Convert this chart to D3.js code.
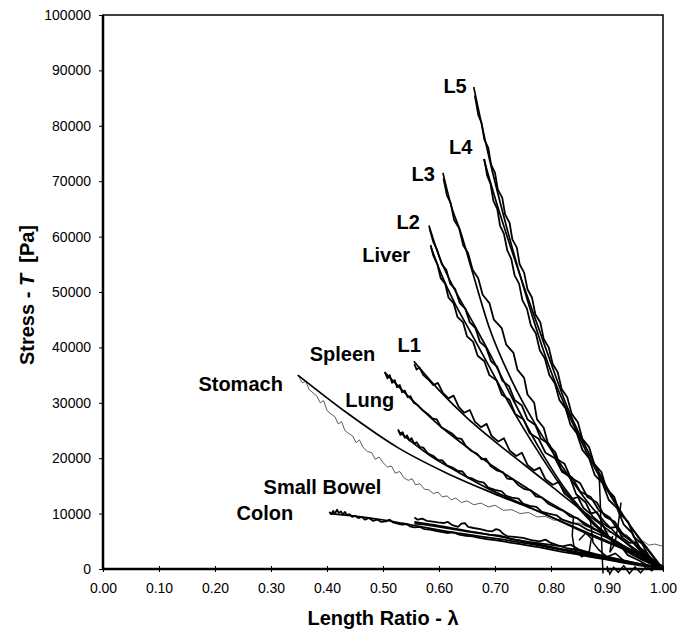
<!DOCTYPE html>
<html>
<head>
<meta charset="utf-8">
<script src="https://cdn.jsdelivr.net/npm/d3@7"></script>
<style>
    body { margin: 0; background: #fff; }
    .tick line { stroke: #000; stroke-width: 1; }
    .domain { display: none; }
    .fit { fill: none; stroke: #000; stroke-width: 1.7; }
    .exp { fill: none; stroke: #000; stroke-width: 1.8; stroke-linejoin: round; }
    .thin { fill: none; stroke: #333; stroke-width: 0.8; }
    .art { fill: none; stroke: #000; stroke-width: 1.5; }
    .curveLabel, .axisTitle { font-family: "Liberation Sans", Arial, sans-serif; font-weight: bold; font-size: 20px; fill: #000; white-space: pre; }
</style>
</head>
<body>
<script>
//wrap everything in an anonymous function so nothing is global
(function () {

    //tick values
    var xTicks = [0, 0.1, 0.2, 0.3, 0.4, 0.5, 0.6, 0.7, 0.8, 0.9, 1.0];
    var yTicks = [0, 10000, 20000, 30000, 40000, 50000, 60000, 70000, 80000, 90000, 100000];

    //curve names (label order)
    var names = ["L5", "L4", "L3", "L2", "Liver", "L1", "Spleen", "Stomach", "Lung", "Small Bowel", "Colon"];

    //[length ratio, stress Pa]
    var l5Fit = [[0.662,87000],[0.69,74000],[0.72,62000],[0.755,49500],[0.795,37000],[0.84,26000],[0.89,16000],[0.94,8000],[0.97,3800],[1.0,0]];
    var l5Exp = [[0.664,85500],[0.670,82000],[0.676,80500],[0.681,77500],[0.688,76000],[0.693,73000],[0.700,71500],[0.705,68500],[0.713,67000],[0.718,64000],[0.726,62500],[0.731,59500],[0.739,58000],[0.744,55000],[0.752,53500],[0.758,50500],[0.766,49000],[0.772,46000],[0.781,44500],[0.787,41500],[0.796,40000],[0.803,37000],[0.812,35500],[0.819,32500],[0.829,31000],[0.837,28000],[0.848,26500],[0.856,23500],[0.868,22000],[0.877,19000],[0.89,17500],[0.899,14500],[0.913,13000],[0.923,10000],[0.938,8500],[0.948,5800],[0.963,4500],[0.975,2200],[0.99,1000],[1.0,0]];
    var l4Fit = [[0.68,74000],[0.70,67000],[0.725,59000],[0.755,50000],[0.79,40000],[0.83,29000],[0.88,18500],[0.93,9500],[0.97,4000],[1.0,0]];
    var l4Exp = [[0.681,74000],[0.686,71000],[0.692,69500],[0.697,66500],[0.704,65000],[0.709,62000],[0.716,60500],[0.722,57500],[0.729,56000],[0.735,53000],[0.743,51500],[0.749,48500],[0.757,47000],[0.764,44000],[0.773,42500],[0.780,39500],[0.789,38000],[0.797,35000],[0.807,33500],[0.815,30500],[0.826,29000],[0.835,26000],[0.846,24500],[0.856,21500],[0.868,20000],[0.878,17000],[0.892,15500],[0.903,12500],[0.918,11000],[0.93,8000],[0.945,6500],[0.957,4000],[0.972,2800],[0.985,1000],[1.0,0]];
    var l3Fit = [[0.607,71500],[0.622,65500],[0.638,61000],[0.66,53500],[0.69,43500],[0.73,34000],[0.775,25600],[0.82,18500],[0.87,11500],[0.92,6000],[0.96,2500],[1.0,0]];
    var l3Exp = [[0.608,70500],[0.614,67500],[0.621,66000],[0.627,63000],[0.636,61500],[0.643,58500],[0.652,57000],[0.66,54000],[0.67,52500],[0.678,49500],[0.69,48000],[0.698,45000],[0.712,43500],[0.72,40500],[0.733,39000],[0.74,36000],[0.752,34500],[0.758,31500],[0.77,30000],[0.775,27000],[0.787,25500],[0.795,22500],[0.808,21000],[0.818,18000],[0.834,16500],[0.845,13500],[0.862,12000],[0.874,9500],[0.892,8000],[0.903,5800],[0.922,4500],[0.937,2500],[0.958,1500],[0.975,500],[1.0,0]];
    var l2Fit = [[0.582,62000],[0.60,56500],[0.625,51000],[0.655,45500],[0.69,39000],[0.73,31000],[0.775,22500],[0.825,14500],[0.875,8500],[0.93,3800],[1.0,0]];
    var l2Exp = [[0.583,61500],[0.59,59000],[0.597,57500],[0.605,55000],[0.613,54000],[0.62,51500],[0.629,50500],[0.637,48000],[0.647,47000],[0.655,44500],[0.665,43500],[0.673,41000],[0.684,40000],[0.693,37500],[0.704,36500],[0.713,34000],[0.725,33000],[0.735,30500],[0.748,29500],[0.758,27000],[0.772,26000],[0.782,23500],[0.797,22500],[0.808,20000],[0.824,19000],[0.835,16500],[0.852,15500],[0.865,13000],[0.882,12000],[0.896,9500],[0.914,8500],[0.93,6000],[0.95,4500],[0.97,2500],[0.99,800],[1.0,0]];
    var liverFit = [[0.586,58000],[0.605,53000],[0.628,48000],[0.655,43000],[0.69,36500],[0.73,29000],[0.775,21500],[0.825,14000],[0.875,8200],[0.93,3500],[1.0,0]];
    var liverExp = [[0.585,58500],[0.59,56500],[0.597,55000],[0.603,52500],[0.611,51500],[0.617,49000],[0.626,48000],[0.633,45500],[0.643,44500],[0.65,42000],[0.661,41000],[0.669,38500],[0.681,37500],[0.69,35000],[0.703,34000],[0.712,31500],[0.726,30500],[0.736,28000],[0.751,27000],[0.762,24500],[0.778,23500],[0.79,21000],[0.807,20000],[0.82,17500],[0.838,16500],[0.852,14000],[0.871,13000],[0.886,10500],[0.905,9300],[0.92,7000],[0.94,5500],[0.96,3200],[0.98,1500],[1.0,0]];
    var l1Fit = [[0.555,37500],[0.60,32300],[0.65,27300],[0.70,23000],[0.75,19000],[0.80,15000],[0.85,11000],[0.90,7200],[0.95,3600],[1.0,0]];
    var l1Exp = [[0.556,37000],[0.560,36000],[0.565,36400],[0.572,35000],[0.58,34300],[0.59,33200],[0.598,33600],[0.607,31800],[0.617,30800],[0.626,31300],[0.635,29300],[0.645,28200],[0.655,28700],[0.664,26600],[0.675,25600],[0.685,26200],[0.694,24000],[0.706,23000],[0.716,23600],[0.726,21400],[0.738,20400],[0.748,21000],[0.758,18800],[0.77,17800],[0.78,18300],[0.79,16200],[0.803,15200],[0.814,15700],[0.824,13600],[0.837,12600],[0.848,13000],[0.858,11000],[0.87,10000],[0.882,10300],[0.892,8300],[0.905,7400],[0.917,7600],[0.928,5600],[0.94,4700],[0.953,4800],[0.965,2900],[0.978,2000],[0.99,1000],[1.0,0]];
    var spleenFit = [[0.504,35400],[0.554,30300],[0.602,25800],[0.65,22000],[0.696,18600],[0.745,15400],[0.793,12300],[0.852,8800],[0.911,5200],[0.959,2500],[1.0,0]];
    var spleenExp = [[0.503,35600],[0.508,34400],[0.512,35000],[0.516,33600],[0.521,34100],[0.525,32800],[0.53,33200],[0.534,31900],[0.539,32200],[0.544,31000],[0.549,31200],[0.555,30000],[0.562,29600],[0.57,28700],[0.58,28000],[0.588,27200],[0.596,27000],[0.604,25600],[0.614,25000],[0.624,24400],[0.632,23600],[0.64,23500],[0.648,22200],[0.658,21300],[0.668,20800],[0.676,19800],[0.684,19900],[0.692,18600],[0.703,17800],[0.714,17500],[0.722,16300],[0.732,16200],[0.742,15100],[0.753,14400],[0.764,14200],[0.773,13100],[0.784,12900],[0.795,11800],[0.81,11000],[0.822,10500],[0.834,9500],[0.847,9200],[0.86,8000],[0.875,7300],[0.89,6600],[0.905,5600],[0.92,4800],[0.935,3800],[0.95,3000],[0.965,2000],[0.98,1200],[1.0,200]];
    var stomachFit = [[0.348,35000],[0.436,28150],[0.525,22000],[0.614,17300],[0.696,13700],[0.78,10300],[0.87,6100],[0.941,3100],[1.0,500]];
    var stomachExp = [[0.348,35000],[0.356,33600],[0.362,33900],[0.368,32400],[0.375,31800],[0.382,31200],[0.388,30000],[0.394,30400],[0.4,28600],[0.407,28000],[0.414,27500],[0.42,26200],[0.426,26600],[0.432,25000],[0.438,24500],[0.446,24000],[0.452,22800],[0.458,23300],[0.464,22000],[0.472,21200],[0.48,21000],[0.486,19800],[0.493,20200],[0.5,19200],[0.508,18400],[0.515,18600],[0.522,17300],[0.53,17600],[0.537,16500],[0.545,16000],[0.552,16300],[0.558,15200],[0.566,15400],[0.574,14400],[0.582,14300],[0.59,13600],[0.598,13900],[0.606,13000],[0.614,13200],[0.622,12500],[0.63,12800],[0.64,12000],[0.65,12300],[0.662,11600],[0.675,11900],[0.688,11200],[0.7,11500],[0.715,10600],[0.73,10700],[0.745,10000],[0.76,10200],[0.775,9400],[0.79,9500],[0.805,8800],[0.82,9000],[0.835,8200],[0.85,8300],[0.865,7600],[0.88,7800],[0.895,6900],[0.91,6500],[0.925,5800],[0.935,6200],[0.945,5200],[0.955,4800],[0.965,5000],[0.975,4300],[0.985,4500],[1.0,4100]];
    var lungFit = [[0.527,24900],[0.584,20500],[0.6375,17300],[0.696,14100],[0.745,11900],[0.816,8700],[0.8875,5600],[0.959,2500],[1.0,500]];
    var lungExp = [[0.527,25200],[0.531,24200],[0.535,24700],[0.539,23700],[0.543,24100],[0.547,23200],[0.551,23600],[0.556,22600],[0.56,22900],[0.566,22000],[0.572,21900],[0.58,20900],[0.59,20400],[0.598,19700],[0.606,19600],[0.614,18700],[0.624,18300],[0.634,17700],[0.642,17600],[0.65,16600],[0.66,16300],[0.67,15800],[0.68,15600],[0.688,14700],[0.7,14300],[0.712,14000],[0.72,13200],[0.73,12900],[0.742,12700],[0.75,11800],[0.762,11400],[0.774,11200],[0.784,10300],[0.796,10000],[0.81,9700],[0.82,8900],[0.835,8400],[0.85,8000],[0.865,7100],[0.88,6500],[0.895,5900],[0.91,5100],[0.925,4400],[0.94,3600],[0.955,2900],[0.97,2000],[0.985,1100],[1.0,400]];
    var bowelFit = [[0.556,8500],[0.6,7800],[0.65,6900],[0.7,6000],[0.75,5000],[0.8,4000],[0.85,3000],[0.9,2000],[0.95,1000],[1.0,200]];
    var bowelExp = [[0.556,9300],[0.562,8900],[0.57,9100],[0.578,8700],[0.586,8600],[0.598,8400],[0.608,8300],[0.616,8500],[0.624,7900],[0.634,7600],[0.64,8200],[0.646,8300],[0.652,7600],[0.662,7400],[0.674,7200],[0.686,6900],[0.695,6800],[0.702,7200],[0.708,7000],[0.714,6400],[0.722,5900],[0.735,5800],[0.75,5600],[0.765,5200],[0.78,5000],[0.79,5300],[0.8,4700],[0.815,4200],[0.83,3700],[0.845,3500],[0.86,3000],[0.88,2600],[0.9,2100],[0.92,1700],[0.94,1300],[0.96,900],[0.98,500],[1.0,200]];
    var bowelExp2 = [[0.556,8200],[0.575,8000],[0.6,7600],[0.63,7100],[0.66,6600],[0.69,6200],[0.71,6000],[0.73,5400],[0.76,4900],[0.79,4500],[0.82,4100],[0.835,4400],[0.85,3500],[0.88,2700],[0.92,1800],[0.96,900],[1.0,200]];
    var colonFit = [[0.405,10000],[0.446,9600],[0.507,8750],[0.554,7900],[0.625,6600],[0.709,5400],[0.775,4300],[0.834,3100],[0.905,1700],[1.0,200]];
    var colonExp = [[0.404,10300],[0.408,9900],[0.411,10500],[0.414,10000],[0.418,10700],[0.421,10100],[0.425,10400],[0.428,9800],[0.432,10300],[0.436,9700],[0.44,9900],[0.445,9400],[0.45,9600],[0.456,9200],[0.462,9400],[0.468,8900],[0.475,9200],[0.482,8700],[0.49,8900],[0.497,8500],[0.505,8600],[0.512,8900],[0.518,8400],[0.526,8200],[0.534,8000],[0.542,8100],[0.548,7700],[0.556,7500],[0.566,7600],[0.574,7200],[0.584,7100],[0.594,6900],[0.604,6700],[0.614,6500],[0.626,6600],[0.636,6200],[0.648,6000],[0.66,5900],[0.672,5600],[0.685,5400],[0.7,5200],[0.715,5000],[0.73,4700],[0.745,4500],[0.76,4200],[0.78,3900],[0.8,3500],[0.82,3100],[0.845,2700],[0.87,2200],[0.9,1700],[0.93,1100],[0.96,600],[1.0,100]];

    //unloading loops near full length
    var unloadA = [[0.886,17000],[0.888,12000],[0.89,6000],[0.892,1000],[0.893,-800]];
    var unloadB = [[0.925,12000],[0.92,8000],[0.914,4500],[0.905,3000],[0.91,6000]];
    var unloadC = [[0.84,9500],[0.838,6000],[0.842,3500],[0.855,2200],[0.868,3000],[0.872,5500],[0.862,6500],[0.85,5200]];
    var unloadD = [[0.87,9000],[0.875,4800],[0.885,3500],[0.9,2200],[0.915,2800],[0.93,1500]];
    var unloadE = [[0.9,500],[0.905,-900],[0.912,300],[0.92,-600],[0.93,600],[0.94,-800],[0.95,400],[0.96,-700],[0.97,500],[0.98,-300],[0.99,700],[1.0,-200]];

    //series grouped by how they are drawn
    var fitSeries = [l5Fit, l4Fit, l3Fit, l2Fit, liverFit, l1Fit, spleenFit, stomachFit, lungFit, bowelFit, colonFit];
    var expSeries = [l5Exp, l4Exp, l3Exp, l2Exp, liverExp, l1Exp, spleenExp, lungExp, bowelExp, bowelExp2, colonExp];
    var artSeries = [unloadA, unloadB, unloadC, unloadD, unloadE];

    //curve each label sits beside, and label offset in px from that curve's first point
    var labelCurves = [l5Fit, l4Exp, l3Fit, l2Fit, liverFit, l1Fit, spleenFit, stomachFit, lungFit, bowelExp, colonExp];
    var labelOffsets = [[-7, 6], [-12, -5], [-8, 8], [-9, 3], [-21, 14], [7, -9], [-10, -12], [-15, 16], [-4, -24], [-33, -23], [-36, 8]];

    window.onload = setChart();

    function setChart() {
        //frame dimensions
        var width = 688,
            height = 633,
            left = 103,
            right = 663,
            top = 15,
            bottom = 569;

        var svg = d3.select("body")
            .append("svg")
            .attr("width", width)
            .attr("height", height);

        var x = d3.scaleLinear().domain([0, 1]).range([left, right]);
        var y = d3.scaleLinear().domain([0, 100000]).range([bottom, top]);

        //plot frame
        svg.append("rect")
            .attr("x", left)
            .attr("y", top)
            .attr("width", right - left)
            .attr("height", bottom - top)
            .style("fill", "none")
            .style("stroke", "#000")
            .style("stroke-width", 1.5);

        var smooth = d3.line()
            .x(function (d) { return x(d[0]); })
            .y(function (d) { return y(d[1]); })
            .curve(d3.curveMonotoneX);

        var jagged = d3.line()
            .x(function (d) { return x(d[0]); })
            .y(function (d) { return y(d[1]); });

        //thin stomach measurement
        svg.append("path")
            .datum(stomachExp)
            .attr("class", "thin")
            .attr("d", jagged);

        svg.selectAll(".art")
            .data(artSeries)
            .enter()
            .append("path")
            .attr("class", "art")
            .attr("d", jagged);

        svg.selectAll(".exp")
            .data(expSeries)
            .enter()
            .append("path")
            .attr("class", "exp")
            .attr("d", jagged);

        svg.selectAll(".fit")
            .data(fitSeries)
            .enter()
            .append("path")
            .attr("class", "fit")
            .attr("d", smooth);

        //axes
        var yAxis = svg.append("g")
            .attr("transform", "translate(" + left + ",0)")
            .call(d3.axisLeft(y).tickValues(yTicks).tickFormat(d3.format("d")).tickSize(4).tickPadding(8))
            .attr("font-size", 14)
            .attr("font-family", "Liberation Sans, Arial, sans-serif");

        var xAxis = svg.append("g")
            .attr("transform", "translate(0," + bottom + ")")
            .call(d3.axisBottom(x).tickValues(xTicks).tickFormat(d3.format(".2f")).tickSize(3).tickPadding(11))
            .attr("font-size", 14)
            .attr("font-family", "Liberation Sans, Arial, sans-serif");
        xAxis.selectAll(".tick line").attr("y1", -3);

        //heavy left and bottom axis lines
        svg.append("line")
            .attr("x1", left).attr("x2", left)
            .attr("y1", top).attr("y2", bottom + 1)
            .style("stroke", "#000").style("stroke-width", 2.5);
        svg.append("line")
            .attr("x1", left - 1).attr("x2", right)
            .attr("y1", bottom).attr("y2", bottom)
            .style("stroke", "#000").style("stroke-width", 2.5);

        //curve labels
        svg.selectAll(".curveLabel")
            .data(names)
            .enter()
            .append("text")
            .attr("class", "curveLabel")
            .attr("text-anchor", "end")
            .attr("x", function (d, i) { return x(labelCurves[i][0][0]) + labelOffsets[i][0]; })
            .attr("y", function (d, i) { return y(labelCurves[i][0][1]) + labelOffsets[i][1]; })
            .text(function (d) { return d; });

        //axis titles
        svg.append("text")
            .attr("class", "axisTitle")
            .attr("text-anchor", "middle")
            .attr("x", 383)
            .attr("y", 625)
            .text("Length Ratio - \u03bb");

        var yTitle = svg.append("text")
            .attr("class", "axisTitle")
            .attr("text-anchor", "middle")
            .attr("transform", "translate(34,295) rotate(-90)");
        yTitle.append("tspan").text("Stress - ");
        yTitle.append("tspan").style("font-style", "italic").text("T");
        yTitle.append("tspan").text("  [Pa]");
    };

})();
</script>
</body>
</html>
